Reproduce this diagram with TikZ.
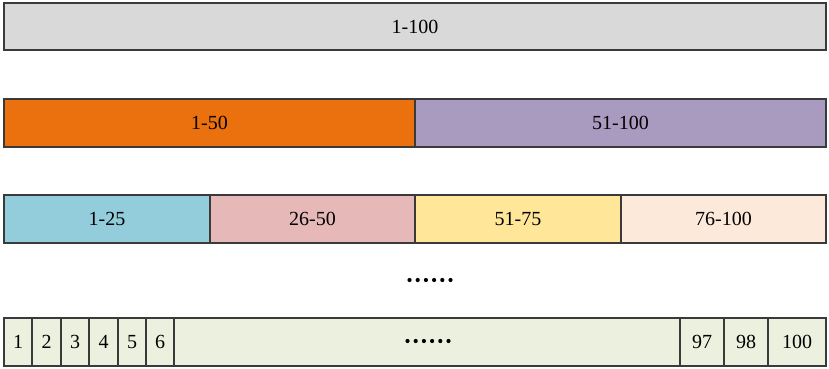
\documentclass[tikz,border=0pt]{standalone}
\usepackage{fontspec}
\setmainfont{Liberation Serif}
\definecolor{cgray}{HTML}{D9D9D9}
\definecolor{corange}{HTML}{EB700E}
\definecolor{cpurple}{HTML}{A99BBF}
\definecolor{cblue}{HTML}{93CDDC}
\definecolor{cpink}{HTML}{E6B9B8}
\definecolor{cyellow}{HTML}{FFE699}
\definecolor{cpeach}{HTML}{FDE9DA}
\definecolor{cgreen}{HTML}{EBF1DE}
\definecolor{cline}{HTML}{3A3A3A}
\begin{document}
\begin{tikzpicture}[x=1pt,y=-1pt,
  cell/.style={draw=cline,line width=1.2pt,font=\fontsize{20}{22}\selectfont,text=black}]
\useasboundingbox (0,0) rectangle (829,369);
% row 1
\draw[cell,fill=cgray] (4,3) rectangle node (r1) {1-100} (826,50);
% row 2
\draw[cell,fill=corange] (4,99) rectangle node (r2a) {1-50} (415,147);
\draw[cell,fill=cpurple] (415,99) rectangle node (r2b) {51-100} (826,147);
% row 3
\draw[cell,fill=cblue] (4,195) rectangle node (r3a) {1-25} (210,243);
\draw[cell,fill=cpink] (210,195) rectangle node (r3b) {26-50} (415,243);
\draw[cell,fill=cyellow] (415,195) rectangle node (r3c) {51-75} (621,243);
\draw[cell,fill=cpeach] (621,195) rectangle node (r3d) {76-100} (826,243);
% dots
\coordinate (d1) at (409.5,280);
\foreach \i in {0,...,5} \fill ([xshift=\i*8.2pt]d1) circle (2.1pt);
% row 5
\draw[cell,fill=cgreen] (4,318) rectangle node (c1) {1} (32,366);
\draw[cell,fill=cgreen] (32,318) rectangle node (c2) {2} (61,366);
\draw[cell,fill=cgreen] (61,318) rectangle node (c3) {3} (89,366);
\draw[cell,fill=cgreen] (89,318) rectangle node (c4) {4} (118,366);
\draw[cell,fill=cgreen] (118,318) rectangle node (c5) {5} (146,366);
\draw[cell,fill=cgreen] (146,318) rectangle node (c6) {6} (174,366);
\draw[cell,fill=cgreen] (174,318) rectangle node (cm) {} (680,366);
\coordinate (d2) at (407.5,341);
\foreach \i in {0,...,5} \fill ([xshift=\i*8.2pt]d2) circle (2.1pt);
\draw[cell,fill=cgreen] (680,318) rectangle node (c97) {97} (724,366);
\draw[cell,fill=cgreen] (724,318) rectangle node (c98) {98} (768,366);
\draw[cell,fill=cgreen] (768,318) rectangle node (c100) {100} (826,366);
\end{tikzpicture}
\end{document}
